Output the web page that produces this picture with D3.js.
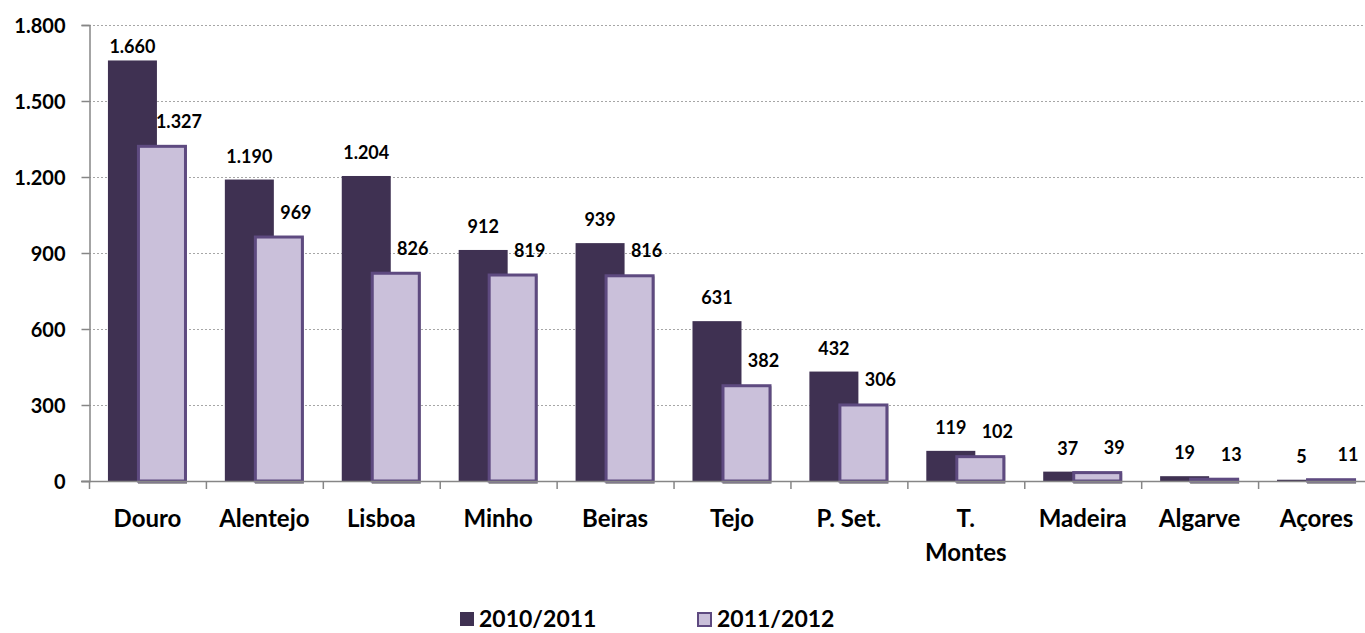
<!DOCTYPE html>
<html><head><meta charset="utf-8">
<script src="https://cdn.jsdelivr.net/npm/d3@7"></script>
<style>
html,body{margin:0;padding:0;background:#fff;}
svg{display:block;font-family:Lato,"Open Sans",sans-serif;font-weight:bold;}
</style></head>
<body>
<svg id="c" width="1365" height="633"></svg>
<script>
const categories = ["Douro","Alentejo","Lisboa","Minho","Beiras","Tejo","P. Set.","T. Montes","Madeira","Algarve","Açores"];
const series1 = [1660,1190,1204,912,939,631,432,119,37,19,5];
const series2 = [1327,969,826,819,816,382,306,102,39,13,11];
const seriesNames = ["2010/2011","2011/2012"];
const yTicks = [0,300,600,900,1200,1500,1800];

(function(){
const darkFill = "#3F3152", lightFill = "#CAC0DA", lightStroke = "#5E4A80", axisCol = "#868686";
const svg = d3.select("#c");
const loc = d3.formatLocale({decimal:",", thousands:".", grouping:[3], currency:["",""]});
const fmt = loc.format(",d");

const pL = 89, pR = 1375, pT = 25, pB = 481;
const y = d3.scaleLinear().domain([0,1800]).range([pB, pT]);
const x = d3.scaleBand().domain(categories).range([pL, pR]).paddingInner(0.324).paddingOuter(0.162);
const bw = x.bandwidth();

svg.append("g").selectAll("line").data(yTicks.filter(d=>d>0)).join("line")
  .attr("x1", pL).attr("x2", 1365).attr("y1", d=>y(d)+0.5).attr("y2", d=>y(d)+0.5)
  .attr("stroke", "#A6A6A6").attr("stroke-width", 1.2).attr("stroke-dasharray", "2,2");

const yAxis = d3.axisLeft(y).tickValues(yTicks).tickSize(8).tickFormat(fmt);
const gy = svg.append("g").attr("transform", `translate(${pL+0.5},0)`).call(yAxis);
gy.select(".domain").attr("stroke", axisCol).attr("stroke-width", 1.5);
gy.selectAll(".tick line").attr("stroke", axisCol).attr("stroke-width", 1.5);
gy.selectAll(".tick text").attr("x", -24).attr("dy", "0.36em").attr("fill", "#000")
  .style("font-size", "20px").style("font-weight", "bold").style("font-family", "Lato");

const data = categories.map((c,i)=>({c, a:series1[i], b:series2[i]}));
const darkW = bw*0.62, lightOff = bw*0.367, lightW = bw*0.633;

const g = svg.append("g");
g.selectAll("rect.sh").data(data).join("rect").attr("class","sh")
  .attr("x", d=>x(d.c)+lightOff+1).attr("y", d=>y(d.b)+2)
  .attr("width", lightW-1).attr("height", d=>Math.max(0, pB - y(d.b)+1))
  .attr("fill", "#A0A0A0");
g.selectAll("rect.d").data(data).join("rect").attr("class","d")
  .attr("x", d=>x(d.c)).attr("y", d=>y(d.a))
  .attr("width", darkW).attr("height", d=>pB - y(d.a))
  .attr("fill", darkFill);
g.selectAll("rect.l").data(data).join("rect").attr("class","l")
  .attr("x", d=>x(d.c)+lightOff+1.5).attr("y", d=>y(d.b)+1.5)
  .attr("width", lightW-3).attr("height", d=>Math.max(0.1, pB - y(d.b)-1.5))
  .attr("fill", lightFill).attr("stroke", lightStroke).attr("stroke-width", 3);

const xa = svg.append("g");
xa.append("line").attr("x1", pL-8).attr("x2", pR).attr("y1", pB+0.5).attr("y2", pB+0.5)
  .attr("stroke", axisCol).attr("stroke-width", 1.5);
const step = x.step();
xa.selectAll("line.t").data(d3.range(categories.length)).join("line").attr("class","t")
  .attr("x1", i=>pL + i*step + 0.5).attr("x2", i=>pL + i*step + 0.5)
  .attr("y1", pB).attr("y2", pB+8).attr("stroke", axisCol).attr("stroke-width", 1.5);

const catG = svg.append("g");
categories.forEach(c=>{
  const cx = x(c) + bw/2;
  const parts = c === "T. Montes" ? ["T.","Montes"] : [c];
  const t = catG.append("text").attr("x", cx).attr("y", 527).attr("text-anchor","middle")
    .style("font-size","24px").attr("fill","#000");
  parts.forEach((p,k)=>t.append("tspan").attr("x", cx).attr("dy", k===0?0:34).text(p));
});

const lbl = svg.append("g").style("font-size","18px").attr("fill","#000").attr("text-anchor","middle");
lbl.selectAll("text.a").data(data).join("text").attr("class","a")
  .attr("x", d=>x(d.c)+darkW/2).attr("y", d=>Math.max(y(d.a)-17, 53)).text(d=>fmt(d.a));
lbl.selectAll("text.b").data(data).join("text").attr("class","b")
  .attr("x", d=>x(d.c)+lightOff+lightW/2+17).attr("y", d=>y(d.b)-17).text(d=>fmt(d.b));

const leg = svg.append("g");
leg.append("rect").attr("x",460).attr("y",612).attr("width",14).attr("height",14).attr("fill",darkFill);
leg.append("text").attr("x",479).attr("y",627).style("font-size","23px").text(seriesNames[0]);
leg.append("rect").attr("x",698).attr("y",613).attr("width",13).attr("height",13).attr("fill",lightFill)
  .attr("stroke",lightStroke).attr("stroke-width",2);
leg.append("text").attr("x",717).attr("y",627).style("font-size","23px").text(seriesNames[1]);
})();
</script>
</body></html>
